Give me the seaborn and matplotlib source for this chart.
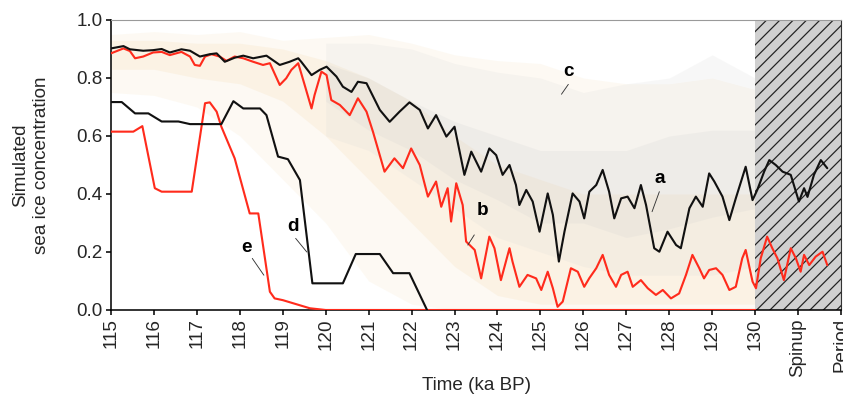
import numpy as np
import pandas as pd
import matplotlib
matplotlib.use("Agg")
import matplotlib.pyplot as plt
import seaborn as sns
from matplotlib.patches import Rectangle

# ---------------- data ----------------
# curve a (black, running mean, sea ice concentration)
a_x = [115.0, 115.29, 115.44, 115.75, 115.98, 116.18, 116.37, 116.64, 116.84, 117.07,
       117.3, 117.46, 117.65, 117.88, 118.08, 118.31, 118.62, 118.93, 119.16, 119.36,
       119.43, 119.67, 119.86, 120.02, 120.25, 120.4, 120.6, 120.75, 120.95, 121.26,
       121.49, 121.72, 121.95, 122.19, 122.38, 122.57, 122.81, 123.0, 123.23, 123.39,
       123.62, 123.81, 123.97, 124.12, 124.28, 124.43, 124.51, 124.67, 124.82, 124.98,
       125.17, 125.29, 125.43, 125.56, 125.75, 125.91, 126.02, 126.14, 126.3, 126.45,
       126.6, 126.72, 126.88, 127.03, 127.19, 127.34, 127.46, 127.65, 127.77, 127.96,
       128.16, 128.27, 128.47, 128.62, 128.78, 128.93, 129.05, 129.24, 129.4, 129.55,
       129.78, 129.94, 130.05, 130.21, 130.33, 130.48, 130.64, 130.83, 131.02, 131.14,
       131.22, 131.37, 131.53, 131.68]
a_y = [0.902, 0.91, 0.899, 0.894, 0.896, 0.90, 0.888, 0.899, 0.894, 0.874,
       0.882, 0.885, 0.856, 0.87, 0.877, 0.868, 0.877, 0.845, 0.856, 0.868,
       0.856, 0.81, 0.828, 0.839, 0.805, 0.77, 0.752, 0.787, 0.782, 0.69,
       0.649, 0.684, 0.716, 0.69, 0.626, 0.672, 0.598, 0.632, 0.466, 0.546,
       0.477, 0.557, 0.534, 0.466, 0.50, 0.431, 0.362, 0.414, 0.374, 0.27,
       0.402, 0.328, 0.167, 0.27, 0.402, 0.374, 0.316, 0.408, 0.431, 0.483,
       0.408, 0.316, 0.385, 0.391, 0.351, 0.431, 0.362, 0.213, 0.201, 0.27,
       0.224, 0.213, 0.351, 0.391, 0.356, 0.471, 0.443, 0.391, 0.31, 0.385,
       0.494, 0.379, 0.414, 0.477, 0.517, 0.50, 0.477, 0.466, 0.374, 0.42,
       0.39, 0.466, 0.517, 0.489]

# curve b (red)
b_x = [115.0, 115.29, 115.44, 115.56, 115.75, 115.98, 116.18, 116.37, 116.64, 116.84,
       116.95, 117.07, 117.19, 117.34, 117.53, 117.69, 117.88, 118.08, 118.31, 118.54,
       118.7, 118.93, 119.08, 119.2, 119.36, 119.51, 119.67, 119.74, 119.9, 120.02,
       120.13, 120.33, 120.56, 120.75, 120.95, 121.1, 121.37, 121.6, 121.8, 121.99,
       122.19, 122.38, 122.57, 122.69, 122.84, 122.92, 123.04, 123.19, 123.27, 123.47,
       123.62, 123.81, 123.93, 124.08, 124.28, 124.35, 124.51, 124.7, 124.9, 125.02,
       125.17, 125.29, 125.4, 125.52, 125.71, 125.87, 126.02, 126.14, 126.3, 126.45,
       126.6, 126.76, 126.88, 127.03, 127.15, 127.34, 127.5, 127.69, 127.85, 128.04,
       128.23, 128.39, 128.54, 128.7, 128.81, 128.93, 129.09, 129.24, 129.4, 129.55,
       129.7, 129.78, 129.94, 130.02, 130.13, 130.28, 130.4, 130.52, 130.67, 130.83,
       130.95, 131.06, 131.14, 131.26, 131.41, 131.57, 131.68]
b_y = [0.885, 0.902, 0.893, 0.868, 0.874, 0.888, 0.89, 0.879, 0.89, 0.874,
       0.845, 0.842, 0.874, 0.882, 0.874, 0.859, 0.874, 0.868, 0.856, 0.845,
       0.851, 0.776, 0.799, 0.828, 0.851, 0.776, 0.695, 0.741, 0.822, 0.81,
       0.724, 0.707, 0.672, 0.73, 0.684, 0.615, 0.477, 0.523, 0.489, 0.557,
       0.50, 0.391, 0.443, 0.356, 0.42, 0.305, 0.437, 0.362, 0.236, 0.207,
       0.109, 0.253, 0.213, 0.103, 0.213, 0.167, 0.08, 0.121, 0.109, 0.069,
       0.132, 0.075, 0.011, 0.029, 0.144, 0.132, 0.08, 0.11, 0.144, 0.19,
       0.121, 0.08, 0.121, 0.132, 0.08, 0.103, 0.075, 0.052, 0.069, 0.04,
       0.057, 0.121, 0.19, 0.144, 0.109, 0.138, 0.144, 0.121, 0.069, 0.08,
       0.178, 0.207, 0.098, 0.075, 0.178, 0.253, 0.213, 0.178, 0.103, 0.213,
       0.178, 0.132, 0.19, 0.155, 0.184, 0.201, 0.155]

# curve d (black, coarse)
d_x = [115.0, 115.25, 115.56, 115.87, 116.18, 116.57, 116.84, 117.57, 117.85, 118.08,
       118.47, 118.62, 118.89, 119.12, 119.4, 119.69, 120.4, 120.7, 121.26, 121.57,
       121.95, 122.36]
d_y = [0.717, 0.717, 0.678, 0.678, 0.65, 0.65, 0.641, 0.641, 0.72, 0.695,
       0.695, 0.672, 0.529, 0.52, 0.448, 0.092, 0.092, 0.193, 0.193, 0.127,
       0.127, 0.0]

# curve e (red, coarse)
e_x = [115.0, 115.52, 115.73, 116.02, 116.18, 116.88, 117.19, 117.3, 117.46, 117.57,
       117.88, 118.23, 118.43, 118.7, 118.81, 119.0, 119.63, 120.0, 130.0]
e_y = [0.615, 0.615, 0.634, 0.42, 0.408, 0.408, 0.713, 0.716, 0.684, 0.632,
       0.523, 0.333, 0.333, 0.063, 0.04, 0.034, 0.006, 0.0, 0.0]

# background variability envelopes (annual values), read per ka
env_x = [115, 116, 117, 118, 119, 120, 121, 122, 123, 124, 125, 126, 127, 128, 129, 130, 131, 132]
orange_hi = [0.95, 0.96, 0.95, 0.96, 0.93, 0.94, 0.95, 0.92, 0.88, 0.86, 0.85, 0.80, 0.78, 0.78, 0.80, 0.76, 0.75, 0.72]
orange_lo = [0.75, 0.74, 0.70, 0.60, 0.45, 0.30, 0.10, 0.02, 0.0, 0.0, 0.0, 0.0, 0.0, 0.0, 0.0, 0.0, 0.0, 0.0]
orange_core_hi = [0.93, 0.93, 0.92, 0.92, 0.90, 0.86, 0.80, 0.72, 0.60, 0.50, 0.45, 0.40, 0.40, 0.40, 0.40, 0.40, 0.40, 0.40]
orange_core_lo = [0.83, 0.83, 0.80, 0.78, 0.72, 0.60, 0.45, 0.30, 0.15, 0.05, 0.02, 0.02, 0.02, 0.02, 0.02, 0.02, 0.02, 0.02]

grey_x = [120, 121, 122, 123, 124, 125, 126, 127, 128, 129, 130, 131, 132]
grey_hi = [0.92, 0.92, 0.90, 0.85, 0.82, 0.80, 0.75, 0.78, 0.80, 0.88, 0.80, 0.78, 0.75]
grey_lo = [0.60, 0.55, 0.45, 0.35, 0.25, 0.20, 0.15, 0.12, 0.12, 0.12, 0.15, 0.15, 0.15]
grey_core_hi = [0.85, 0.80, 0.72, 0.65, 0.60, 0.55, 0.55, 0.55, 0.60, 0.62, 0.62, 0.62, 0.62]
grey_core_lo = [0.72, 0.62, 0.55, 0.45, 0.38, 0.30, 0.30, 0.25, 0.28, 0.32, 0.35, 0.35, 0.35]

x_ticks = list(range(115, 133))
x_labels = [str(v) for v in range(115, 131)] + ["Spinup", "Period"]
y_ticks = [0.0, 0.2, 0.4, 0.6, 0.8, 1.0]

# ---------------- style ----------------
sns.set_style("ticks")
plt.rcParams['font.family'] = ['Liberation Sans', 'DejaVu Sans']
plt.rcParams['hatch.linewidth'] = 1.1

DPI = 80
FS = 17
fig = plt.figure(figsize=(843 / DPI, 407 / DPI), dpi=DPI)
ax = fig.add_axes([111 / 843, 97 / 407, 730 / 843, 290 / 407])

# background variability
ax.fill_between(env_x, orange_lo, orange_hi, color='#f2d7a4', alpha=0.13, lw=0, zorder=1)
ax.fill_between(env_x, orange_core_lo, orange_core_hi, color='#efcc8f', alpha=0.14, lw=0, zorder=1)
ax.fill_between(grey_x, grey_lo, grey_hi, color='#d8d8d8', alpha=0.18, lw=0, zorder=1.1)
ax.fill_between(grey_x, grey_core_lo, grey_core_hi, color='#cfcfcf', alpha=0.18, lw=0, zorder=1.1)

# spin-up hatched region
ax.add_patch(Rectangle((130, 0), 2, 1, facecolor='#d0d0d0', edgecolor='#222222',
                       hatch='//', lw=0, zorder=2))

RED = '#ff2b1c'
BLK = '#111111'
LW = 1.9
for xs, ys, col in [(e_x, e_y, RED), (d_x, d_y, BLK), (b_x, b_y, RED), (a_x, a_y, BLK)]:
    df = pd.DataFrame({'t': xs, 'v': ys})
    sns.lineplot(data=df, x='t', y='v', ax=ax, color=col, lw=LW, sort=False,
                 estimator=None, zorder=3)

# labels a-e
notes = [("a", (127.79, 0.454), (127.77, 0.408), (127.60, 0.339)),
         ("b", (123.66, 0.342), (123.46, 0.259), (123.31, 0.224)),
         ("c", (125.66, 0.822), (125.65, 0.778), (125.49, 0.744)),
         ("d", (119.23, 0.287), (119.30, 0.247), (119.56, 0.200)),
         ("e", (118.15, 0.216), (118.29, 0.178), (118.56, 0.120))]
for lab, tpos, p0, p1 in notes:
    ax.text(tpos[0], tpos[1], lab, ha='center', va='center', fontsize=FS,
            fontweight='bold', color='black', zorder=5)
    ax.annotate('', xy=p1, xytext=p0,
                arrowprops=dict(arrowstyle='-', color='#333333', lw=0.8,
                                shrinkA=0, shrinkB=0), zorder=5)

ax.set_xlim(115, 132)
ax.set_ylim(0, 1)
ax.set_xticks(x_ticks)
ax.set_xticklabels(x_labels, rotation=90, fontsize=FS)
ax.set_yticks(y_ticks)
ax.set_yticklabels([f"{v:.1f}" for v in y_ticks], fontsize=FS)
ax.tick_params(direction='out', length=4.5, width=1.4, color='black', pad=3)
ax.set_xlabel("Time (ka BP)", fontsize=FS)
ax.xaxis.set_label_coords(0.5, -0.26)
ax.xaxis.label.set_va('center')
ax.set_ylabel("Simulated\nsea ice concentration", fontsize=FS, linespacing=1.25)
ax.yaxis.set_label_coords(-0.084, 0.5)

for s in ['left', 'bottom']:
    ax.spines[s].set_color('black')
    ax.spines[s].set_linewidth(1.4)
ax.spines['top'].set_color('#9a9a9a')
ax.spines['top'].set_linewidth(1.0)
ax.spines['right'].set_color('#333333')
ax.spines['right'].set_linewidth(1.0)

fig.savefig("out.png", dpi=DPI)
